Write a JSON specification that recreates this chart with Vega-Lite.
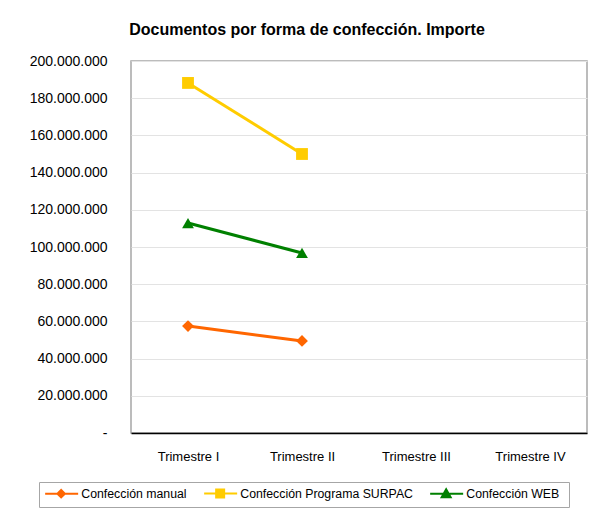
{
  "$schema": "https://vega.github.io/schema/vega-lite/v6.json",
  "width": 456,
  "height": 372,
  "autosize": {"type": "none"},
  "padding": {"left": 131, "top": 61, "right": 7, "bottom": 80},
  "background": "white",
  "title": {
    "text": "Documentos por forma de confección. Importe",
    "font": "Liberation Sans",
    "fontSize": 16,
    "fontWeight": "bold",
    "color": "black",
    "anchor": "middle",
    "dx": -52,
    "offset": 16
  },
  "config": {
    "font": "Liberation Sans",
    "view": {"stroke": "#a6a6a6", "strokeWidth": 1.5}
  },
  "data": {
    "values": [
      {"trimestre": "Trimestre I", "serie": "Confección manual", "importe": 57500000},
      {"trimestre": "Trimestre II", "serie": "Confección manual", "importe": 49500000},
      {"trimestre": "Trimestre I", "serie": "Confección Programa SURPAC", "importe": 188200000},
      {"trimestre": "Trimestre II", "serie": "Confección Programa SURPAC", "importe": 150000000},
      {"trimestre": "Trimestre I", "serie": "Confección WEB", "importe": 112900000},
      {"trimestre": "Trimestre II", "serie": "Confección WEB", "importe": 96800000}
    ]
  },
  "encoding": {
    "x": {
      "field": "trimestre",
      "type": "ordinal",
      "sort": ["Trimestre I", "Trimestre II", "Trimestre III", "Trimestre IV"],
      "scale": {"domain": ["Trimestre I", "Trimestre II", "Trimestre III", "Trimestre IV"], "type": "point", "padding": 0.5},
      "axis": {
        "title": null,
        "labelAngle": 0,
        "labelFontSize": 13,
        "labelColor": "black",
        "labelPadding": 17,
        "ticks": false,
        "domainColor": "black",
        "domainWidth": 1.5,
        "grid": false
      }
    },
    "y": {
      "field": "importe",
      "type": "quantitative",
      "scale": {"domain": [0, 200000000], "nice": false},
      "axis": {
        "title": null,
        "values": [0, 20000000, 40000000, 60000000, 80000000, 100000000, 120000000, 140000000, 160000000, 180000000, 200000000],
        "labelExpr": "datum.value == 0 ? '-' : replace(format(datum.value, ',.0f'), /,/g, '.')",
        "labelOverlap": false,
        "labelFontSize": 14,
        "labelColor": "black",
        "labelPadding": 24,
        "ticks": false,
        "domain": false,
        "grid": true,
        "gridColor": "#e3e3e3",
        "gridWidth": 1
      }
    },
    "color": {
      "field": "serie",
      "type": "nominal",
      "scale": {
        "domain": ["Confección manual", "Confección Programa SURPAC", "Confección WEB"],
        "range": ["#ff6600", "#ffcc00", "#008000"]
      },
      "legend": {
        "title": null,
        "orient": "none",
        "legendX": -92,
        "legendY": 421,
        "direction": "horizontal",
        "strokeColor": "#a6a6a6",
        "padding": 5,
        "labelFontSize": 12.3,
        "labelColor": "black",
        "labelLimit": 300,
        "labelOffset": 25,
        "columnPadding": 13,
        "symbolSize": 100,
        "symbolStrokeWidth": 2,
        "encode": {
          "symbols": {
            "update": {
              "shape": {"signal": "datum.value == 'Confección manual' ? 'M-3.2,0M-1,0H5.6M2.2,-0.75L2.95,0L2.2,0.75L1.45,0Z' : (datum.value == 'Confección WEB' ? 'M24.8,0M-1,0H5.6M2.2,-0.9L3.1,0.7L1.3,0.7Z' : 'M-1,0H5.6M1.4,-0.8H3V0.8H1.4Z')"},
              "fill": {"signal": "scale('color', datum.value)"},
              "stroke": {"signal": "scale('color', datum.value)"},
              "fillOpacity": {"value": 1},
              "strokeOpacity": {"value": 1},
              "strokeWidth": {"value": 2}
            }
          }
        }
      }
    }
  },
  "layer": [
    {
      "mark": {"type": "line", "strokeWidth": 3}
    },
    {
      "mark": {"type": "point", "filled": true, "opacity": 1},
      "encoding": {
        "shape": {
          "field": "serie",
          "type": "nominal",
          "scale": {
            "domain": ["Confección WEB", "Confección manual", "Confección Programa SURPAC"],
            "range": ["triangle-up", "diamond", "square"]
          },
          "legend": null
        },
        "size": {"value": 140}
      }
    }
  ]
}
